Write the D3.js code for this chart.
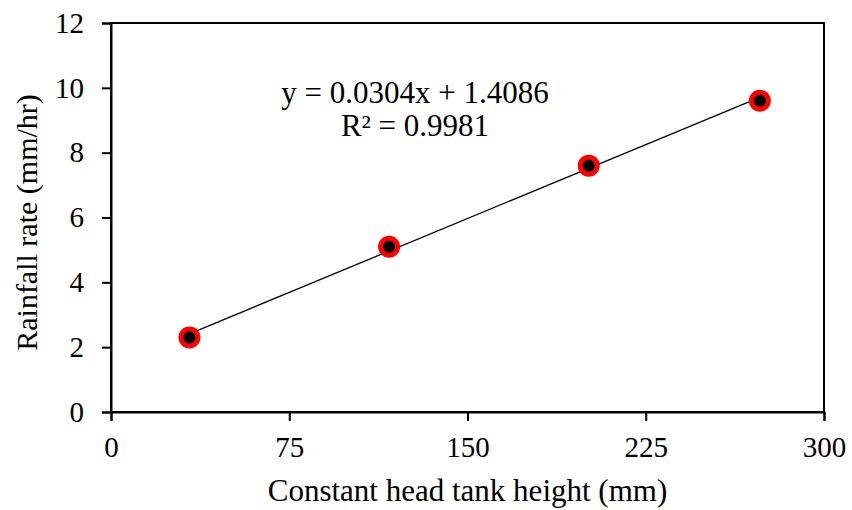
<!DOCTYPE html>
<html>
<head>
<meta charset="utf-8">
<script src="https://cdn.jsdelivr.net/npm/d3@7"></script>
<style>
body { margin: 0; background: #fff; }
text { font-family: "Liberation Serif", "Times New Roman", serif; fill: #000; }
</style>
</head>
<body>
<div id="chart"></div>
<script>
var heights = [33, 117, 201, 273];
var rates = [2.3, 5.1, 7.6, 9.6];
var xTicks = [0, 75, 150, 225, 300];
var yTicks = [0, 2, 4, 6, 8, 10, 12];
var slope = 0.0304, intercept = 1.4086;
var eqLabels = ["y = 0.0304x + 1.4086", "R\u00b2 = 0.9981"];

var width = 852, height = 510;
var margin = {left: 111, right: 28, top: 23, bottom: 98};

var svg = d3.select("#chart").append("svg")
    .attr("width", width).attr("height", height);

var x = d3.scaleLinear().domain([0, 300]).range([margin.left, width - margin.right]);
var y = d3.scaleLinear().domain([0, 12]).range([height - margin.bottom, margin.top]);

// frame
svg.append("rect")
    .attr("x", x(0)).attr("y", y(12))
    .attr("width", x(300) - x(0)).attr("height", y(0) - y(12))
    .attr("fill", "none").attr("stroke", "#000").attr("stroke-width", 2);

var xAxis = svg.append("g")
    .attr("transform", "translate(0," + y(0) + ")")
    .call(d3.axisBottom(x).tickValues(xTicks).tickSize(9).tickPadding(15));
var yAxis = svg.append("g")
    .attr("transform", "translate(" + x(0) + ",0)")
    .call(d3.axisLeft(y).tickValues(yTicks).tickSize(9).tickPadding(18));

[xAxis, yAxis].forEach(function(a) {
    a.select(".domain").attr("stroke-width", 2);
    a.selectAll(".tick line").attr("stroke-width", 2);
    a.selectAll("text").style("font-size", "29px")
        .style("font-family", "'Liberation Serif', serif").attr("fill", "#000");
});

// trendline
var x0 = d3.min(heights), x1 = d3.max(heights);
svg.append("line")
    .attr("x1", x(x0)).attr("y1", y(slope * x0 + intercept))
    .attr("x2", x(x1)).attr("y2", y(slope * x1 + intercept))
    .attr("stroke", "#000").attr("stroke-width", 1.3);

var pts = heights.map(function(h, i) { return [h, rates[i]]; });
svg.selectAll(".outer").data(pts).enter().append("circle")
    .attr("cx", d => x(d[0])).attr("cy", d => y(d[1]))
    .attr("r", 11).attr("fill", "#ff0000");
svg.selectAll(".inner").data(pts).enter().append("circle")
    .attr("cx", d => x(d[0])).attr("cy", d => y(d[1]))
    .attr("r", 6).attr("fill", "#000");

// equation
svg.selectAll(".eq").data(eqLabels).enter().append("text")
    .attr("x", 415).attr("y", (d, i) => 103 + i * 33)
    .attr("text-anchor", "middle")
    .style("font-size", "31px")
    .text(d => d);

svg.append("text")
    .attr("x", (x(0) + x(300)) / 2).attr("y", 501)
    .attr("text-anchor", "middle")
    .style("font-size", "31px")
    .text("Constant head tank height (mm)");

svg.append("text")
    .attr("transform", "translate(37," + (y(6) + 5) + ") rotate(-90)")
    .attr("text-anchor", "middle")
    .style("font-size", "30px")
    .text("Rainfall rate (mm/hr)");
</script>
</body>
</html>
